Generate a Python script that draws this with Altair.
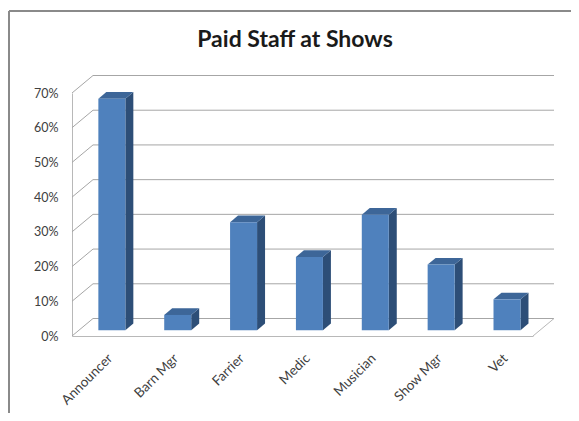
import altair as alt
import pandas as pd

categories = ["Announcer", "Barn Mgr", "Farrier", "Medic", "Musician", "Show Mgr", "Vet"]
values = [0.667, 0.044, 0.311, 0.211, 0.333, 0.189, 0.089]
y_ticks = [0.0, 0.1, 0.2, 0.3, 0.4, 0.5, 0.6, 0.7]
title_text = "Paid Staff at Shows"

# plot geometry (pixels)
W, H = 461, 243
NX, YMAX = 7, 0.7
PX_X = W / NX
PX_Y = H / YMAX
DEPTH_DX = 21 / PX_X      # wall depth in data units
DEPTH_DY = 17.5 / PX_Y
F1, F2 = 0.33, 0.71       # bar front / back depth fraction
BW = 0.41                 # bar width (category units)

FONT = "Lato"
FRONT, SIDE, TOP = "#4f81bd", "#2d4e77", "#3d6698"
GRID = "#a6a6a6"

xs = alt.Scale(domain=[0, NX], range=[0, W], nice=False, zero=False)
ys = alt.Scale(domain=[0, YMAX], range=[H, 0], nice=False, zero=False)

label_expr = "[" + ",".join("'" + c + "'" for c in categories) + "][floor(datum.value)]"
AX = alt.Axis(values=[i + 0.5 for i in range(len(categories))], labelExpr=label_expr,
              labelAngle=-45, labelAlign="right", labelBaseline="top",
              labelPadding=15, ticks=False, grid=False, title=None,
              labelOverlap=False, labelFlush=False,
              domainColor="#b8b8b8", labelFont=FONT, labelFontSize=13.5,
              labelColor="#404040")
AY = alt.Axis(values=y_ticks, format=".0%", ticks=False, grid=False, title=None,
              labelOverlap=False, labelFlush=False,
              labelPadding=14, domainColor="#b8b8b8", labelFont=FONT,
              labelFontSize=12.5, labelColor="#404040")

# bars
rows, side, top = [], [], []
for i, (c, v) in enumerate(zip(categories, values)):
    cx = i + 0.5 + F1 * DEPTH_DX
    xl, xr = cx - BW / 2, cx + BW / 2
    y0, y1 = F1 * DEPTH_DY, v + F1 * DEPTH_DY
    ddx, ddy = (F2 - F1) * DEPTH_DX, (F2 - F1) * DEPTH_DY
    rows.append(dict(cat=c, xl=xl, xr=xr, y0=y0, y1=y1))
    side.append(dict(cat=c, x=xr, lo=y0, hi=y1))
    side.append(dict(cat=c, x=xr + ddx, lo=y0 + ddy, hi=y1 + ddy))
    top.append(dict(cat=c, y=y1, xa=xl, xb=xr))
    top.append(dict(cat=c, y=y1 + ddy, xa=xl + ddx, xb=xr + ddx))
bars_df = pd.DataFrame(rows)
side_df = pd.DataFrame(side)
top_df = pd.DataFrame(top)

# walls / floor lines
lines = []
for k in y_ticks:
    lines.append(dict(x=DEPTH_DX, y=k + DEPTH_DY, x2=NX + DEPTH_DX, y2=k + DEPTH_DY, c=GRID))
    lines.append(dict(x=0, y=k, x2=DEPTH_DX, y2=k + DEPTH_DY, c=GRID))
lines.append(dict(x=NX, y=0, x2=NX + DEPTH_DX, y2=DEPTH_DY, c="#b8b8b8"))
lines_df = pd.DataFrame(lines)

grid = alt.Chart(lines_df).mark_rule(strokeWidth=1).encode(
    x=alt.X("x:Q", scale=xs, axis=AX), y=alt.Y("y:Q", scale=ys, axis=AY),
    x2="x2:Q", y2="y2:Q", color=alt.Color("c:N", scale=None),
)

front = alt.Chart(bars_df).mark_rect(color=FRONT).encode(
    x=alt.X("xl:Q", scale=xs, axis=AX), x2="xr:Q",
    y=alt.Y("y0:Q", scale=ys, axis=AY), y2="y1:Q",
)
side_m = alt.Chart(side_df).mark_area(color=SIDE).encode(
    x=alt.X("x:Q", scale=xs, axis=AX), y=alt.Y("lo:Q", scale=ys, axis=AY), y2="hi:Q", detail="cat:N",
)
top_m = alt.Chart(top_df).mark_area(color=TOP, orient="horizontal").encode(
    y=alt.Y("y:Q", scale=ys, axis=AY), x=alt.X("xa:Q", scale=xs, axis=AX), x2="xb:Q", detail="cat:N",
)

title = alt.Chart(pd.DataFrame({"t": [title_text]})).mark_text(
    font=FONT, fontSize=23, fontWeight="bold", color="#1a1a1a", baseline="alphabetic", align="center"
).encode(text="t:N", x=alt.value(223), y=alt.value(-46))

frame_top = alt.Chart(pd.DataFrame({"a": [0]})).mark_rule(color="#8a8a8a", strokeWidth=2).encode(
    x=alt.value(-63), x2=alt.value(W + 38), y=alt.value(-82))
frame_left = alt.Chart(pd.DataFrame({"a": [0]})).mark_rule(color="#8a8a8a", strokeWidth=2).encode(
    x=alt.value(-63), y=alt.value(-82), y2=alt.value(H + 80))

chart = alt.layer(grid, side_m, top_m, front, title, frame_top, frame_left).properties(
    width=W, height=H,
    autosize=alt.AutoSizeParams(type="none"),
    padding={"left": 64, "top": 85, "right": 38, "bottom": 77},
    background="white",
).configure_view(stroke=None)

chart.save("out.html", embed_options={"renderer": "svg", "actions": False})
